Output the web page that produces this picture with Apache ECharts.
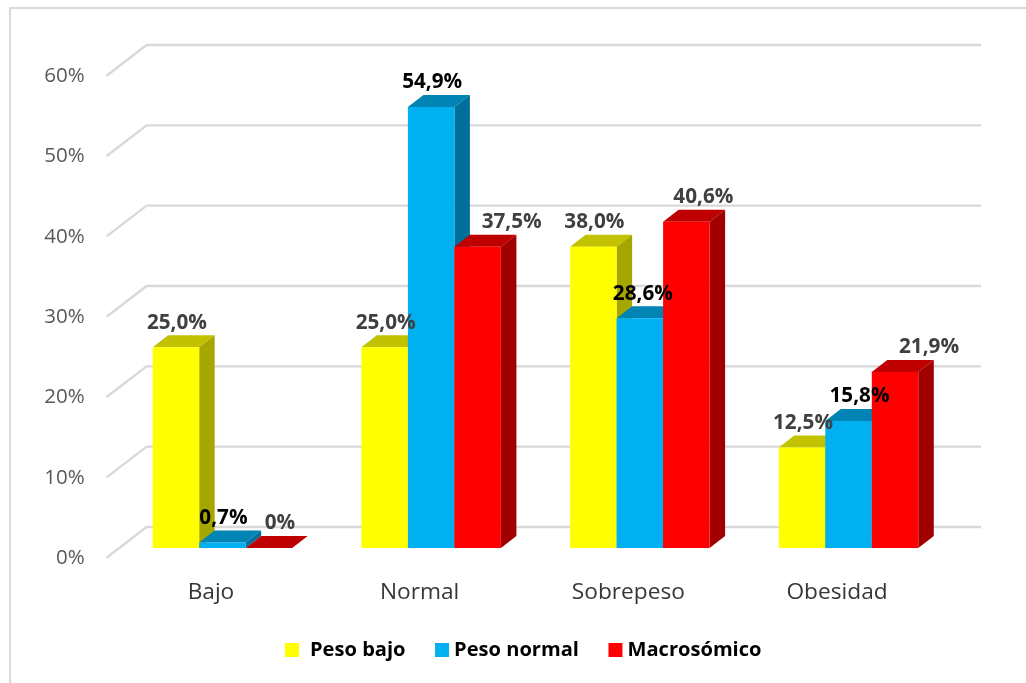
<!DOCTYPE html>
<html>
<head>
<meta charset="utf-8">
<title>Peso por categoría</title>
<script src="https://cdn.jsdelivr.net/npm/echarts@6/dist/echarts.min.js"></script>
<style>
  html, body { margin: 0; padding: 0; background: #fff; }
  #chart { width: 1026px; height: 683px; }
</style>
</head>
<body>
<div id="chart"></div>
<script>
const categories = ['Bajo', 'Normal', 'Sobrepeso', 'Obesidad']
const yTicks = [0, 10, 20, 30, 40, 50, 60]

const seriesNames = ['Peso bajo', 'Peso normal', 'Macrosómico']
const pesoBajo = [25.0, 25.0, 37.5, 12.5]
const pesoNormal = [0.7, 54.9, 28.6, 15.8]
const macrosomico = [0, 37.5, 40.6, 21.9]

// the picture prints 38,0% over a bar drawn at 37,5
const pesoBajoText = ['25,0%', '25,0%', '38,0%', '12,5%']
const pesoNormalText = ['0,7%', '54,9%', '28,6%', '15,8%']
const macrosomicoText = ['0%', '37,5%', '40,6%', '21,9%']

// front / top / side faces
const faces = [
  ['#ffff00', '#c2c200', '#a6a600'],
  ['#00b0f0', '#0084b4', '#006f9b'],
  ['#ff0000', '#bf0000', '#a00000'],
]
const labelColors = ['#404040', '#000000', '#404040']

// label shift from the bar's top centre, per series and category
const labelNudgeX = [
  [1, 1, 1, 1],
  [1, 1, 3, 11],
  [11, 34, 17, 34],
]

const DEPTH_X = 15.5
const DEPTH_Y = 12
const WALL_X = 40
const WALL_FRONT = 9.7
const WALL_BACK = 21
const WALL_RIGHT = 981
const GROUP_SHIFT = 11.5
const BAR_RATIO = 0.2228

const allValues = [pesoBajo, pesoNormal, macrosomico]
const allTexts = [pesoBajoText, pesoNormalText, macrosomicoText]

function barBox(api, seriesIndex, catIndex, value) {
  const base = api.coord([catIndex, 0])
  const top = api.coord([catIndex, value])
  const width = api.size([1, 0])[0] * BAR_RATIO
  const x = base[0] + GROUP_SHIFT + (seriesIndex - 1.5) * width
  return { x, width, top: top[1], bottom: base[1] }
}

function renderBar(seriesIndex) {
  return (params, api) => {
    const b = barBox(api, seriesIndex, api.value(0), api.value(1))
    const [front, topFace, side] = faces[seriesIndex]
    const right = b.x + b.width
    const children = [
      {
        type: 'polygon',
        shape: { points: [[b.x, b.top], [b.x + DEPTH_X, b.top - DEPTH_Y], [right + DEPTH_X, b.top - DEPTH_Y], [right, b.top]] },
        style: { fill: topFace },
      },
    ]
    if (b.bottom - b.top > 0) {
      children.push(
        {
          type: 'polygon',
          shape: { points: [[right, b.top], [right + DEPTH_X, b.top - DEPTH_Y], [right + DEPTH_X, b.bottom - DEPTH_Y], [right, b.bottom]] },
          style: { fill: side },
        },
        {
          type: 'rect',
          shape: { x: b.x, y: b.top, width: b.width, height: b.bottom - b.top },
          style: { fill: front },
        }
      )
    }
    return { type: 'group', children }
  }
}

function renderWall(params, api) {
  const p = api.coord([0, api.value(0)])
  const left = params.coordSys.x
  const y = p[1]
  return {
    type: 'polyline',
    shape: { points: [[left, y + WALL_FRONT], [left + WALL_X, y - WALL_BACK], [WALL_RIGHT, y - WALL_BACK]] },
    style: { stroke: '#d9d9d9', lineWidth: 2.4, fill: null },
  }
}

function renderLabel(params, api) {
  const seriesIndex = api.value(2)
  const catIndex = api.value(0)
  const b = barBox(api, seriesIndex, catIndex, api.value(1))
  return {
    type: 'text',
    x: b.x + b.width / 2 + labelNudgeX[seriesIndex][catIndex],
    y: b.top - 24.5,
    style: {
      text: allTexts[seriesIndex][catIndex],
      fill: labelColors[seriesIndex],
      font: 'bold 20.7px "Open Sans", sans-serif',
      align: 'center',
      verticalAlign: 'middle',
    },
  }
}

const labelRows = []
allValues.forEach((values, s) => values.forEach((v, c) => labelRows.push([c, v, s])))

const chart = echarts.init(document.getElementById('chart'))
chart.setOption({
  animation: false,
  backgroundColor: '#ffffff',
  textStyle: { fontFamily: '"Open Sans", sans-serif' },
  graphic: [
    {
      type: 'rect',
      shape: { x: 10, y: 8, width: 1100, height: 800 },
      style: { fill: 'none', stroke: '#d9d9d9', lineWidth: 2 },
      silent: true,
    },
  ],
  legend: {
    left: 285,
    top: 640,
    padding: 0,
    icon: 'rect',
    itemWidth: 14,
    itemHeight: 14,
    itemGap: 29.5,
    textStyle: { fontSize: 20.1, fontWeight: 'bold', color: '#000000' },
    data: [
      { name: seriesNames[0], textStyle: { padding: [0, 0, 0, 6] } },
      seriesNames[1],
      seriesNames[2],
    ],
  },
  grid: { left: 106.6, top: 66, width: 834.8, height: 482 },
  xAxis: {
    type: 'category',
    data: categories,
    axisLine: { show: false },
    axisTick: { show: false },
    axisLabel: { color: '#363636', fontSize: 22.7, margin: 33 },
  },
  yAxis: {
    type: 'value',
    min: 0,
    max: 60,
    interval: 10,
    splitLine: { show: false },
    axisLine: { show: false },
    axisTick: { show: false },
    axisLabel: {
      color: '#595959',
      fontSize: 20.5,
      margin: 22,
      verticalAlign: 'top',
      lineHeight: 20,
      formatter: '{value}%',
    },
  },
  series: [
    {
      type: 'custom',
      name: 'pared',
      z: 1,
      silent: true,
      data: yTicks.map(v => [v]),
      encode: { y: 0 },
      renderItem: renderWall,
    },
    ...seriesNames.map((name, s) => ({
      type: 'custom',
      name,
      z: 2 + s,
      itemStyle: { color: faces[s][0] },
      data: allValues[s].map((v, c) => [c, v]),
      encode: { x: 0, y: 1 },
      renderItem: renderBar(s),
    })),
    {
      type: 'custom',
      name: 'etiquetas',
      z: 10,
      silent: true,
      data: labelRows,
      encode: { x: 0, y: 1 },
      renderItem: renderLabel,
    },
  ],
})
</script>
</body>
</html>
